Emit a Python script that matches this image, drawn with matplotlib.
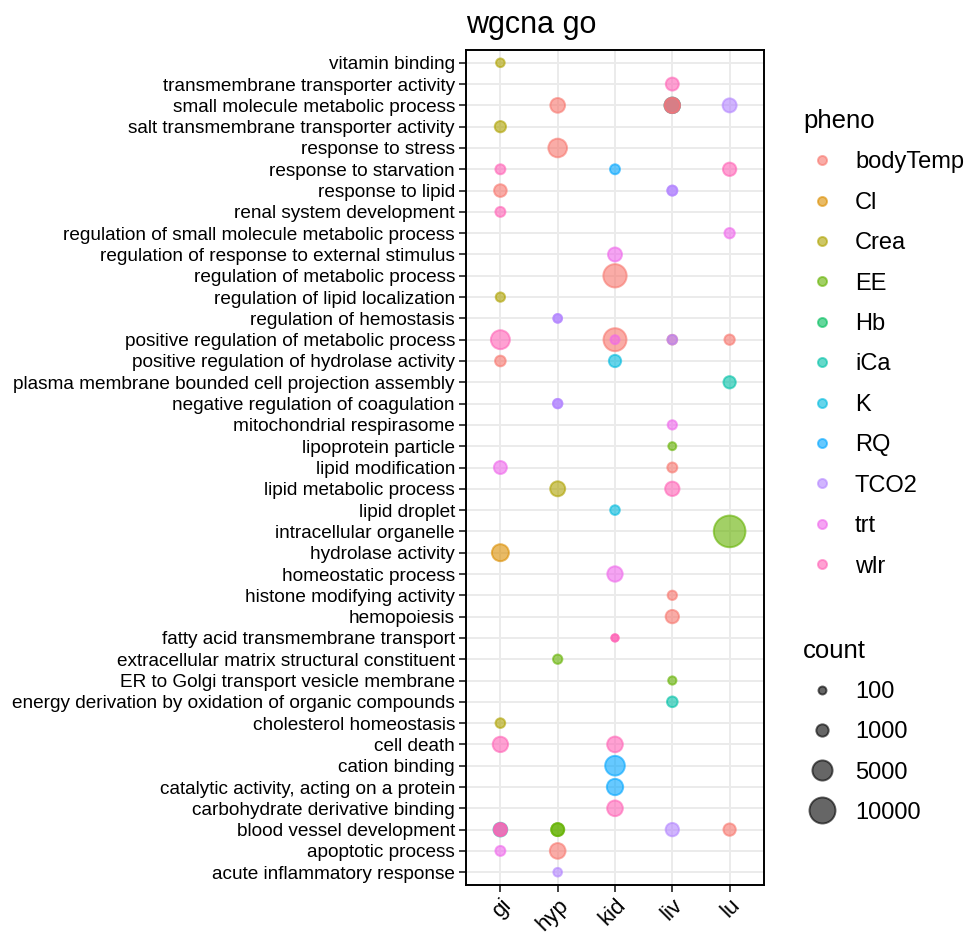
import matplotlib
matplotlib.use("Agg")
import matplotlib.pyplot as plt
from matplotlib.lines import Line2D
import numpy as np

plt.rcParams['font.family'] = ['Liberation Sans', 'DejaVu Sans']

# ---------------- data ----------------
terms = [
    "vitamin binding",
    "transmembrane transporter activity",
    "small molecule metabolic process",
    "salt transmembrane transporter activity",
    "response to stress",
    "response to starvation",
    "response to lipid",
    "renal system development",
    "regulation of small molecule metabolic process",
    "regulation of response to external stimulus",
    "regulation of metabolic process",
    "regulation of lipid localization",
    "regulation of hemostasis",
    "positive regulation of metabolic process",
    "positive regulation of hydrolase activity",
    "plasma membrane bounded cell projection assembly",
    "negative regulation of coagulation",
    "mitochondrial respirasome",
    "lipoprotein particle",
    "lipid modification",
    "lipid metabolic process",
    "lipid droplet",
    "intracellular organelle",
    "hydrolase activity",
    "homeostatic process",
    "histone modifying activity",
    "hemopoiesis",
    "fatty acid transmembrane transport",
    "extracellular matrix structural constituent",
    "ER to Golgi transport vesicle membrane",
    "energy derivation by oxidation of organic compounds",
    "cholesterol homeostasis",
    "cell death",
    "cation binding",
    "catalytic activity, acting on a protein",
    "carbohydrate derivative binding",
    "blood vessel development",
    "apoptotic process",
    "acute inflammatory response",
]
tissues = ["gi", "hyp", "kid", "liv", "lu"]
phenos = ["bodyTemp", "Cl", "Crea", "EE", "Hb", "iCa", "K", "RQ", "TCO2", "trt", "wlr"]
pheno_colors = ["#F8766D", "#DB8E00", "#AEA200", "#64B200", "#00BD5C", "#00C1A7",
                "#00BADE", "#00A6FF", "#B385FF", "#EF67EB", "#FF63B6"]
legend_counts = [100, 1000, 5000, 10000]

pt_term = [
    "vitamin binding",
    "transmembrane transporter activity",
    "small molecule metabolic process",
    "small molecule metabolic process",
    "small molecule metabolic process",
    "small molecule metabolic process",
    "small molecule metabolic process",
    "small molecule metabolic process",
    "salt transmembrane transporter activity",
    "response to stress",
    "response to starvation",
    "response to starvation",
    "response to starvation",
    "response to lipid",
    "response to lipid",
    "response to lipid",
    "renal system development",
    "regulation of small molecule metabolic process",
    "regulation of response to external stimulus",
    "regulation of metabolic process",
    "regulation of lipid localization",
    "regulation of hemostasis",
    "regulation of hemostasis",
    "positive regulation of metabolic process",
    "positive regulation of metabolic process",
    "positive regulation of metabolic process",
    "positive regulation of metabolic process",
    "positive regulation of metabolic process",
    "positive regulation of metabolic process",
    "positive regulation of hydrolase activity",
    "positive regulation of hydrolase activity",
    "plasma membrane bounded cell projection assembly",
    "negative regulation of coagulation",
    "negative regulation of coagulation",
    "mitochondrial respirasome",
    "lipoprotein particle",
    "lipid modification",
    "lipid modification",
    "lipid metabolic process",
    "lipid metabolic process",
    "lipid droplet",
    "intracellular organelle",
    "hydrolase activity",
    "homeostatic process",
    "histone modifying activity",
    "hemopoiesis",
    "fatty acid transmembrane transport",
    "fatty acid transmembrane transport",
    "extracellular matrix structural constituent",
    "ER to Golgi transport vesicle membrane",
    "energy derivation by oxidation of organic compounds",
    "cholesterol homeostasis",
    "cell death",
    "cell death",
    "cation binding",
    "catalytic activity, acting on a protein",
    "carbohydrate derivative binding",
    "blood vessel development",
    "blood vessel development",
    "blood vessel development",
    "blood vessel development",
    "blood vessel development",
    "blood vessel development",
    "blood vessel development",
    "apoptotic process",
    "apoptotic process",
    "acute inflammatory response",
]
pt_tissue = [
    "gi",
    "liv",
    "hyp", "liv", "liv", "liv", "liv", "lu",
    "gi",
    "hyp",
    "gi", "kid", "lu",
    "gi", "liv", "liv",
    "gi",
    "lu",
    "kid",
    "kid",
    "gi",
    "hyp", "hyp",
    "gi", "kid", "kid", "liv", "liv", "lu",
    "gi", "kid",
    "lu",
    "hyp", "hyp",
    "liv",
    "liv",
    "gi", "liv",
    "hyp", "liv",
    "kid",
    "lu",
    "gi",
    "kid",
    "liv",
    "liv",
    "kid", "kid",
    "hyp",
    "liv",
    "liv",
    "gi",
    "gi", "kid",
    "kid",
    "kid",
    "kid",
    "gi", "gi", "gi", "hyp", "hyp", "liv", "lu",
    "gi", "hyp",
    "hyp",
]
pt_pheno = [
    "Crea",
    "wlr",
    "bodyTemp", "Hb", "iCa", "wlr", "bodyTemp", "TCO2",
    "Crea",
    "bodyTemp",
    "wlr", "RQ", "wlr",
    "bodyTemp", "TCO2", "TCO2",
    "wlr",
    "trt",
    "trt",
    "bodyTemp",
    "Crea",
    "TCO2", "TCO2",
    "wlr", "bodyTemp", "trt", "bodyTemp", "TCO2", "bodyTemp",
    "bodyTemp", "K",
    "iCa",
    "TCO2", "TCO2",
    "trt",
    "EE",
    "trt", "bodyTemp",
    "Crea", "wlr",
    "K",
    "EE",
    "Cl",
    "trt",
    "bodyTemp",
    "bodyTemp",
    "wlr", "wlr",
    "EE",
    "EE",
    "iCa",
    "Crea",
    "wlr", "wlr",
    "RQ",
    "RQ",
    "wlr",
    "iCa", "wlr", "wlr", "EE", "EE", "TCO2", "bodyTemp",
    "trt", "bodyTemp",
    "TCO2",
]
pt_count = [
    180,
    1225,
    1900, 2200, 2200, 2200, 2200, 1600,
    700,
    4000,
    400, 400, 1350,
    1100, 400, 400,
    400,
    470,
    1600,
    7500,
    280,
    180, 180,
    4225, 7225, 225, 340, 340, 470,
    550, 1000,
    1000,
    280, 280,
    280,
    100,
    1225, 400,
    2025, 1750,
    340,
    16500,
    3025,
    2200,
    280,
    1350,
    45, 45,
    280,
    130,
    550,
    340,
    2200, 2350,
    4700,
    2700,
    2350,
    1500, 1225, 1225, 1225, 1225, 1350, 1000,
    400, 2350,
    180,
]

# ---------------- helpers ----------------
EDGE_PT = 1.4


def count_to_s(c):
    d_px = 6.0 + 0.2 * np.sqrt(np.asarray(c, dtype=float))
    d_pt = d_px * 0.72
    return d_pt ** 2


ALPHA = 0.6
color_map = dict(zip(phenos, pheno_colors))
n_terms = len(terms)
y_of = {t: n_terms - 1 - i for i, t in enumerate(terms)}
x_of = {t: i for i, t in enumerate(tissues)}

# ---------------- figure ----------------
W, H = 964, 934
fig = plt.figure(figsize=(W / 100, H / 100), dpi=100)
L, R, T, B = 466, 764, 50, 885
ax = fig.add_axes([L / W, 1 - B / H, (R - L) / W, (B - T) / H])

xs = [x_of[t] for t in pt_tissue]
ys = [y_of[t] for t in pt_term]
cols = [color_map[p] for p in pt_pheno]
ax.scatter(xs, ys, s=count_to_s(pt_count), c=cols, edgecolors=cols,
           linewidths=EDGE_PT, alpha=ALPHA, zorder=3)

ax.set_xlim(-0.6, len(tissues) - 1 + 0.6)
ax.set_ylim(-0.6, n_terms - 1 + 0.6)
ax.set_xticks(range(len(tissues)))
ax.set_xticklabels(tissues, rotation=45, ha='right', va='top',
                   rotation_mode='anchor', fontsize=16)
ax.set_yticks([y_of[t] for t in terms])
ax.set_yticklabels(terms, fontsize=13.7)
ax.grid(True, color='#EBEBEB', linewidth=1.4, zorder=0)
ax.set_axisbelow(True)
for sp in ax.spines.values():
    sp.set_color('black')
    sp.set_linewidth(1.4)
ax.tick_params(axis='both', length=5, width=1.3, color='#333333',
               labelcolor='black', pad=3)
ax.tick_params(axis='x', pad=2)

ax.set_title("wgcna go", fontsize=22, loc='left', pad=12)

# ---------------- legends ----------------
pheno_handles = [Line2D([], [], marker='o', linestyle='none',
                        markerfacecolor=c, markeredgecolor=c, alpha=ALPHA,
                        markersize=6.5, markeredgewidth=EDGE_PT) for c in pheno_colors]
leg1 = fig.legend(pheno_handles, phenos, title="pheno", loc='upper left',
                  bbox_to_anchor=(803 / W, 1 - 109 / H), frameon=False,
                  fontsize=17, title_fontsize=18.5, handlelength=1.6,
                  handletextpad=0.6, labelspacing=0.78, borderpad=0,
                  borderaxespad=0, alignment='left')

size_handles = [Line2D([], [], marker='o', linestyle='none',
                       markerfacecolor='black', markeredgecolor='black', alpha=ALPHA,
                       markersize=np.sqrt(count_to_s(c)), markeredgewidth=EDGE_PT)
                for c in legend_counts]
leg2 = fig.legend(size_handles, [str(c) for c in legend_counts], title="count",
                  loc='upper left', bbox_to_anchor=(803 / W, 1 - 639 / H),
                  frameon=False, fontsize=17, title_fontsize=18.5,
                  handlelength=1.6, handletextpad=0.6, labelspacing=0.77,
                  borderpad=0, borderaxespad=0, alignment='left')

fig.savefig("out.png", dpi=100)
